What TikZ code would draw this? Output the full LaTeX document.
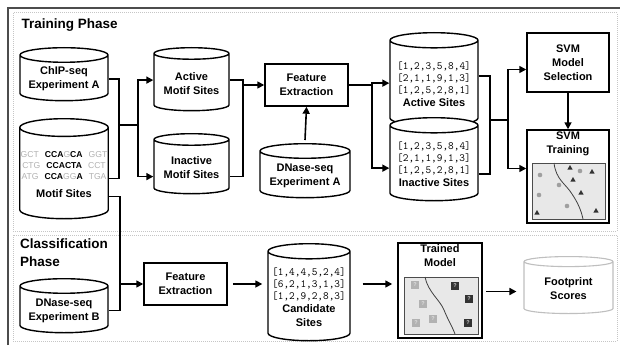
\documentclass[tikz,border=0pt]{standalone}
\usepackage{fontspec}
\setmainfont{Liberation Sans}
\usepackage{xcolor}
\usetikzlibrary{shapes,arrows,arrows.meta,positioning,calc}

\newcommand\lbl{\bfseries\fontsize{11}{14}\selectfont}
\newcommand\nt[1]{\textcolor{gray!60}{\mdseries #1}}
\newcommand\gap{\hspace{6pt}}
\newcommand\seqln[1]{{\fontsize{8.6}{10}\selectfont #1}}
\newcommand\vecln[1]{{\mdseries\ttfamily\fontsize{11}{12}\selectfont #1}}

\begin{document}
\begin{tikzpicture}[x=1pt, y=-1pt,
  db/.style={draw, cylinder, shape border rotate=90, aspect=0.2, fill=white,
    line width=1.4pt, align=center, font=\lbl, anchor=north, inner sep=1pt},
  box/.style={draw, rectangle, line width=1.5pt, align=center, font=\lbl, fill=white},
  bar/.style={line width=1.6pt},
  link/.style={line width=1.6pt, -{Triangle[length=7pt, width=7pt]}},
  phase/.style={draw=gray!45, densely dotted, line width=1pt},
  panel/.style={draw=black!70, fill=gray!18, line width=0.9pt},
  qbox/.style={minimum size=8pt, inner sep=0pt, font=\bfseries\fontsize{5.5}{5.5}\selectfont}]
\useasboundingbox (0,0) rectangle (620,345);

% frame and phases
\draw[line width=1.6pt, black!70] (8,345) -- (8,8) -- (620,8);
\draw[phase] (13,13) rectangle (617,231);
\draw[phase] (13,235) rectangle (617,341);
\node[anchor=west, font=\bfseries\fontsize{13.5}{16}\selectfont] (trainlbl) at (18,25) {Training Phase};
\node[anchor=north west, align=left, font=\bfseries\fontsize{13.5}{18}\selectfont, inner sep=0pt] (classlbl) at (20,239) {Classification\\Phase};

% training phase
\node[db, minimum width=88, minimum height=53] (chip) at (64,47) {ChIP-seq\\Experiment A};
\node[db, minimum width=88, minimum height=100] (motif) at (64,118) {%
  \seqln{\nt{GCT}\gap CCA\nt{G}CA\gap \nt{GGT}}\\[-3pt]
  \seqln{\nt{CTG}\gap CCACTA\gap \nt{CCT}}\\[-3pt]
  \seqln{\nt{ATG}\gap CCA\nt{GG}A\gap \nt{TGA}}\\[4pt]
  Motif Sites};
\node[db, minimum width=75, minimum height=63] (actm) at (191.5,47) {Active\\Motif Sites};
\node[db, minimum width=75, minimum height=60] (inactm) at (191.5,133) {Inactive\\Motif Sites};
\node[box, minimum width=83, minimum height=42] (fe1) at (306.5,85) {Feature\\Extraction};
\node[db, minimum width=90, minimum height=54] (dnaseA) at (305,143) {DNase-seq\\Experiment A};
\node[db, minimum width=88, minimum height=93] (acts) at (434,32) {%
  \vecln{[1,2,3,5,8,4]}\\[-2pt] \vecln{[2,1,1,9,1,3]}\\[-2pt] \vecln{[1,2,5,2,8,1]}\\[-1pt] Active Sites};
\node[db, minimum width=88, minimum height=83] (inacts) at (434,117) {%
  \vecln{[1,2,3,5,8,4]}\\[-2pt] \vecln{[2,1,1,9,1,3]}\\[-2pt] \vecln{[1,2,5,2,8,1]}\\[-1pt] Inactive Sites};
\node[box, minimum width=82, minimum height=59] (svmsel) at (568,62.5) {SVM\\Model\\Selection};
\node[box, minimum width=82, minimum height=93] (svmtr) at (568,176.5) {};
\node[font=\lbl, align=center, anchor=north, inner sep=2pt] (svmtrlbl) at (svmtr.north) {SVM\\Training};

% svm training panel
\draw[panel] (532,163) rectangle (605,219);
\draw[line width=0.8pt, black!75] (554,163) .. controls (556,180) and (566,184) .. (572,194)
  .. controls (578,203) and (581,210) .. (583,219);
\foreach \p in {(540,175),(539,195),(559,185),(567,206),(580,171)}
  \fill[gray!75] \p circle (2.3);
\foreach \p in {(570,168),(592,172),(573,180),(581,193),(537,213),(596,211)}
  \fill[black!80] \p ++(0,-3) -- ++(2.7,4.7) -- ++(-5.4,0) -- cycle;

% classification phase
\node[db, minimum width=88, minimum height=54] (dnaseB) at (64,278) {DNase-seq\\Experiment B};
\node[box, minimum width=83, minimum height=42] (fe2) at (185.5,284) {Feature\\Extraction};
\node[db, minimum width=82, minimum height=97] (cand) at (309,243) {%
  \vecln{[1,4,4,5,2,4]}\\[-2pt] \vecln{[6,2,1,3,1,3]}\\[-2pt] \vecln{[1,2,9,2,8,3]}\\[-1pt] Candidate\\ Sites};
\node[box, minimum width=84, minimum height=95] (trained) at (440,290.5) {};
\node[font=\lbl, align=center, anchor=north, inner sep=2pt] (trainedlbl) at (trained.north) {Trained\\Model};
\node[db, draw=gray!50, line width=1.1pt, minimum width=89, minimum height=57] (foot) at (568.5,256) {Footprint\\Scores};

% trained model panel
\draw[panel] (404,277) rectangle (478,334);
\draw[line width=0.8pt, black!75] (425,277) .. controls (428,292) and (440,300) .. (444,310)
  .. controls (448,320) and (452,326) .. (455,334);
\foreach \p [count=\i] in {(415,285),(423,304),(433,319),(416,323)}
  \node[qbox, fill=gray!60, text=gray!25] (qa\i) at \p {?};
\foreach \p [count=\i] in {(455,286),(469,299),(468,323)}
  \node[qbox, fill=black!80, text=gray!40] (qb\i) at \p {?};

% connectors
\coordinate (j1) at (119,125);
\coordinate (j2) at (138,125);
\draw[bar] (chip.east) -| (j1) |- ([yshift=-4pt]motif.east);
\draw[bar] (j1) -- (j2);
\draw[link] (j2) |- ([yshift=3pt]actm.west);
\draw[link] (j2) |- ([yshift=-9pt]inactm.west);

\coordinate (j3) at (243,85);
\draw[bar] ([yshift=3pt]actm.east) -| (j3) |- ([yshift=-9pt]inactm.east);
\draw[link] (j3) -- (fe1.west);
\draw[link] ([yshift=3pt]dnaseA.north) -- (fe1.south);

\coordinate (j4) at (372,85);
\draw[bar] (fe1.east) -- (j4);
\draw[link] (j4) |- ([yshift=1pt]acts.west);
\draw[link] (j4) |- ([yshift=-4pt]inacts.west);

\coordinate (j5) at (490,120);
\coordinate (j6) at (508,120);
\draw[bar] ([yshift=8pt]acts.east) -| (j5) |- ([yshift=-10pt]inacts.east);
\draw[bar] (j5) -- (j6);
\draw[link] (j6) |- ([yshift=-7pt]svmsel.west);
\draw[link] (j6) |- ([yshift=8pt]svmtr.west);
\draw[link] (svmsel.south) -- (svmtr.north);

\coordinate (j7) at (120,284);
\draw[bar] ([yshift=-22pt]motif.east) -| (j7) |- (dnaseB.east);
\draw[link] (j7) -- (fe2.west);
\draw[link, shorten <=5pt, shorten >=5pt] (fe2.east) -- (fe2.east -| cand.west);
\draw[link, shorten <=12pt, shorten >=5pt] (cand.east |- fe2.east) -- (fe2.east -| trained.west);
\draw[link, shorten <=3pt, shorten >=7pt] ([yshift=-1pt]trained.east) -- ([yshift=-1pt]trained.east -| foot.west);
\end{tikzpicture}
\end{document}
